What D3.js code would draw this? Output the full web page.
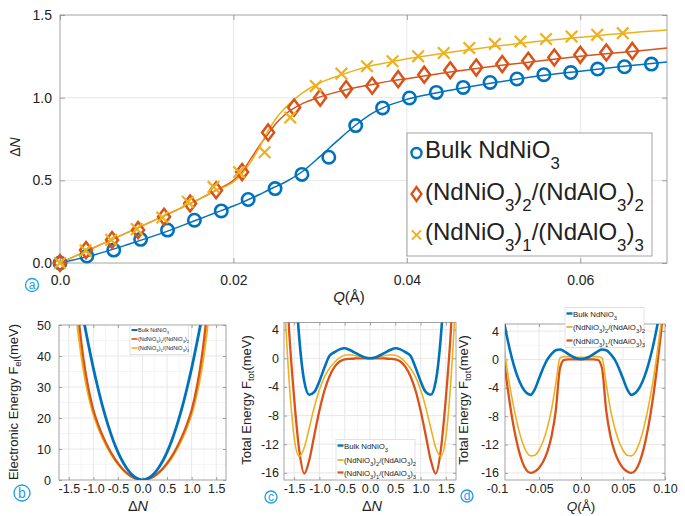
<!DOCTYPE html>
<html><head><meta charset="utf-8">
<script src="https://cdn.jsdelivr.net/npm/d3@7"></script>
<style>body{margin:0;background:#fff}svg{display:block}text{font-family:"Liberation Sans",Arial,Helvetica,sans-serif}</style>
</head><body>
<script>
// ---------------- DATA ----------------
// Panel a: markers
const qBulk=[0,0.0031,0.0062,0.0093,0.0124,0.0155,0.0186,0.0217,0.0248,0.0279,0.031,0.0341,0.0372,0.0403,0.0434,0.0465,0.0496,0.0527,0.0558,0.0589,0.062,0.0651,0.0682];
const dnBulk=[0,0.042,0.078,0.143,0.199,0.259,0.315,0.384,0.45,0.536,0.64,0.831,0.938,0.998,1.032,1.062,1.092,1.113,1.139,1.152,1.173,1.187,1.203];
const q22=[0,0.003,0.006,0.009,0.012,0.015,0.018,0.021,0.024,0.027,0.03,0.033,0.036,0.039,0.042,0.045,0.048,0.051,0.054,0.057,0.06,0.063,0.066];
const dn22=[0,0.078,0.139,0.199,0.279,0.36,0.44,0.55,0.79,0.94,1.0,1.052,1.072,1.112,1.139,1.166,1.182,1.203,1.223,1.243,1.259,1.273,1.283];
const q13=[0,0.00295,0.0059,0.00885,0.0118,0.01475,0.0177,0.02065,0.0236,0.02655,0.0295,0.03245,0.0354,0.03835,0.0413,0.04425,0.0472,0.05015,0.0531,0.05605,0.059,0.06195,0.0649];
const dn13=[0,0.075,0.14,0.205,0.275,0.37,0.46,0.55,0.67,0.88,1.07,1.145,1.19,1.22,1.25,1.27,1.30,1.325,1.34,1.355,1.37,1.38,1.39];
// Panel a: fitted curves
const fitQ=[0,0.004,0.008,0.012,0.016,0.018,0.020,0.021,0.022,0.023,0.024,0.025,0.026,0.028,0.030,0.032,0.034,0.036,0.038,0.040,0.045,0.050,0.055,0.060,0.065,0.070];
const fitBulk=[0,0.05,0.115,0.185,0.265,0.305,0.345,0.367,0.39,0.414,0.44,0.465,0.49,0.555,0.645,0.74,0.83,0.905,0.955,0.99,1.045,1.09,1.13,1.16,1.19,1.215];
const fit22=[0,0.095,0.19,0.285,0.385,0.44,0.5,0.55,0.63,0.71,0.78,0.85,0.9,0.965,1.005,1.035,1.06,1.08,1.1,1.115,1.155,1.19,1.22,1.25,1.275,1.30];
const fit13=[0,0.095,0.19,0.285,0.385,0.44,0.49,0.54,0.61,0.70,0.80,0.88,0.94,1.03,1.09,1.13,1.165,1.195,1.215,1.235,1.275,1.31,1.34,1.365,1.39,1.41];
const aXTicks=[0,0.02,0.04,0.06], aXLabels=["0.0","0.02","0.04","0.06"];
const aYTicks=[0,0.5,1,1.5], aYLabels=["0.0","0.5","1.0","1.5"];
const legendA=["Bulk NdNiO_3","(NdNiO_3)_2/(NdAlO_3)_2","(NdNiO_3)_1/(NdAlO_3)_3"];

// Panel b: electronic energy vs ΔN
const dnB=[-1.4,-1.3,-1.2,-1.1,-1.0,-0.9,-0.8,-0.7,-0.6,-0.5,-0.4,-0.3,-0.2,-0.1,0,0.1,0.2,0.3,0.4,0.5,0.6,0.7,0.8,0.9,1.0,1.1,1.2,1.3,1.4];
const felBulk=[71,61,51.8,43.6,36,29.2,23,17.6,12.9,9.0,5.8,3.3,1.5,0.45,0,0.45,1.5,3.3,5.8,9.0,12.9,17.6,23,29.2,36,43.6,51.8,61,71];
const fel22=[68,52,39,29.5,22.6,17.8,13.9,10.6,7.8,5.4,3.5,2.0,0.9,0.25,0,0.25,0.9,2.0,3.5,5.4,7.8,10.6,13.9,17.8,22.6,29.5,39,52,68];
const fel13=[61,46.5,35.5,27.3,21.2,16.8,13.1,10.0,7.3,5.1,3.3,1.9,0.85,0.23,0,0.23,0.85,1.9,3.3,5.1,7.3,10.0,13.1,16.8,21.2,27.3,35.5,46.5,61];
const bXTicks=[-1.5,-1,-0.5,0,0.5,1,1.5], bXLabels=["-1.5","-1.0","-0.5","0.0","0.5","1.0","1.5"];
const bYTicks=[0,10,20,30,40,50], bYLabels=["0","10","20","30","40","50"];
const legendB=["Bulk NdNiO_3","(NdNiO_3)_2/(NdNiO_3)_2","(NdNiO_3)_1/(NdNiO_3)_3"];

// Panel c: total energy vs ΔN
const dnC=[-1.7,-1.6,-1.5,-1.4,-1.3,-1.2,-1.1,-1.0,-0.9,-0.8,-0.7,-0.6,-0.5,-0.4,-0.3,-0.2,-0.1,0,0.1,0.2,0.3,0.4,0.5,0.6,0.7,0.8,0.9,1.0,1.1,1.2,1.3,1.4,1.5,1.6,1.7];
const ftotBulkC=[50,30,14,3.0,-3.2,-5.1,-4.7,-3.2,-1.3,0.35,0.85,1.25,1.4,1.15,0.8,0.42,0.12,0,0.12,0.42,0.8,1.15,1.4,1.25,0.85,0.35,-1.3,-3.2,-4.7,-5.1,-3.2,3.0,14,30,50];
const ftot22C=[9,-3,-11,-13.7,-12.5,-9.7,-6.8,-4.4,-2.6,-1.4,-0.55,0.1,0.42,0.5,0.38,0.22,0.1,0.05,0.1,0.22,0.38,0.5,0.42,0.1,-0.55,-1.4,-2.6,-4.4,-6.8,-9.7,-12.5,-13.7,-11,-3,9];
const ftot13C=[18,4,-5.5,-12.8,-16.1,-14.2,-10.7,-7.3,-4.5,-2.5,-1.2,-0.45,-0.15,-0.08,-0.03,0,0,0,0,0,-0.03,-0.08,-0.15,-0.45,-1.2,-2.5,-4.5,-7.3,-10.7,-14.2,-16.1,-12.8,-5.5,4,18];
const cYTicks=[-16,-12,-8,-4,0,4], cYLabels=["-16","-12","-8","-4","0","4"];
const legendCD=["Bulk NdNiO_3","(NdNiO_3)_2/(NdAlO_3)_2","(NdNiO_3)_1/(NdAlO_3)_3"];

// Panel d: total energy vs Q
const qD=[-0.1,-0.095,-0.09,-0.085,-0.08,-0.075,-0.07,-0.065,-0.06,-0.055,-0.05,-0.045,-0.04,-0.035,-0.03,-0.025,-0.02,-0.015,-0.01,-0.005,0,0.005,0.01,0.015,0.02,0.025,0.03,0.035,0.04,0.045,0.05,0.055,0.06,0.065,0.07,0.075,0.08,0.085,0.09,0.095,0.1];
const ftotBulkD=[11,7.5,4.3,1.5,-0.8,-2.6,-3.9,-4.7,-5.0,-4.2,-2.7,-1.2,0.0,0.8,1.3,1.4,1.15,0.75,0.4,0.15,0.05,0.15,0.4,0.75,1.15,1.4,1.3,0.8,0.0,-1.2,-2.7,-4.2,-5.0,-4.7,-3.9,-2.6,-0.8,1.5,4.3,7.5,11];
const ftot22D=[9.6,4.8,0.3,-3.6,-6.8,-9.5,-11.6,-13.0,-13.6,-13.5,-12.8,-11.5,-9.6,-7.0,-3.4,0.2,0.4,0.4,0.35,0.3,0.3,0.3,0.35,0.4,0.4,0.2,-3.4,-7.0,-9.6,-11.5,-12.8,-13.5,-13.6,-13.0,-11.6,-9.5,-6.8,-3.6,0.3,4.8,9.6];
const ftot13D=[9,3.5,-1.6,-6.0,-9.6,-12.4,-14.4,-15.6,-16.0,-15.8,-15.3,-14.4,-13.0,-10.8,-7.2,-1.2,-0.05,0,0,0,0,0,0,0,-0.05,-1.2,-7.2,-10.8,-13.0,-14.4,-15.3,-15.8,-16.0,-15.6,-14.4,-12.4,-9.6,-6.0,-1.6,3.5,9];
const dXTicks=[-0.1,-0.05,0,0.05,0.1], dXLabels=["-0.1","-0.05","0.0","0.05","0.10"];

// ---------------- DRAWING ----------------
const W=685,H=516;
const BLUE="#0072BD", ORANGE="#D95319", YELLOW="#EDB120";
const AX="#8c8c8c", GRID="#e2e2e2", MINOR="#f0f0f0", TXT="#222", TAG="#1e9de6";
const svg=d3.select("body").append("svg").attr("width",W).attr("height",H);
const defs=svg.append("defs");

function rich(sel, str, fs, subScale, subDy){
  const parts=[]; let i=0, buf="";
  while(i<str.length){
    if(str[i]==="_"){
      if(buf){parts.push([buf,false]);buf="";}
      if(str[i+1]==="{"){const j=str.indexOf("}",i);parts.push([str.slice(i+2,j),true]);i=j+1;}
      else{parts.push([str[i+1],true]);i+=2;}
    } else {buf+=str[i];i++;}
  }
  if(buf)parts.push([buf,false]);
  let cur=0;
  parts.forEach(([t,sub])=>{
    const target=sub?subDy:0;
    sel.append("tspan").attr("dy",target-cur).attr("font-size",sub?fs*subScale:fs).text(t);
    cur=target;
  });
}

function setupPanel(id, box, xDom, xRange, yDom, xT, xL, yT, yL, o){
  const x=d3.scaleLinear().domain(xDom).range(xRange);
  const y=d3.scaleLinear().domain(yDom).range([box.b,box.t]);
  const g=svg.append("g");
  defs.append("clipPath").attr("id",id).append("rect")
    .attr("x",box.l).attr("y",box.t).attr("width",box.r-box.l).attr("height",box.b-box.t);
  const inX=v=>x(v)>box.l+0.5&&x(v)<box.r-0.5, inY=v=>y(v)>box.t+0.5&&y(v)<box.b-0.5;
  if(o.xMinor) g.append("g").selectAll("line").data(o.xMinor.filter(inX)).join("line")
    .attr("x1",d=>x(d)).attr("x2",d=>x(d)).attr("y1",box.t).attr("y2",box.b).attr("stroke",MINOR).attr("stroke-width",0.7);
  if(o.yMinor) g.append("g").selectAll("line").data(o.yMinor.filter(inY)).join("line")
    .attr("y1",d=>y(d)).attr("y2",d=>y(d)).attr("x1",box.l).attr("x2",box.r).attr("stroke",MINOR).attr("stroke-width",0.7);
  g.append("g").selectAll("line").data(xT.filter(inX)).join("line")
    .attr("x1",d=>x(d)).attr("x2",d=>x(d)).attr("y1",box.t).attr("y2",box.b).attr("stroke",GRID).attr("stroke-width",0.8);
  g.append("g").selectAll("line").data(yT.filter(inY)).join("line")
    .attr("y1",d=>y(d)).attr("y2",d=>y(d)).attr("x1",box.l).attr("x2",box.r).attr("stroke",GRID).attr("stroke-width",0.8);
  const fmtX=d=>xL[xT.indexOf(d)], fmtY=d=>yL[yT.indexOf(d)];
  const ax1=g.append("g").attr("transform",`translate(0,${box.b})`)
    .call(d3.axisBottom(x).tickValues(xT).tickFormat(fmtX).tickSizeInner(-o.tl).tickSizeOuter(0).tickPadding(o.xPad));
  const ax2=g.append("g").attr("transform",`translate(${box.l},0)`)
    .call(d3.axisLeft(y).tickValues(yT).tickFormat(fmtY).tickSizeInner(-o.tl).tickSizeOuter(0).tickPadding(o.yPad));
  const ax3=g.append("g").attr("transform",`translate(0,${box.t})`)
    .call(d3.axisTop(x).tickValues(xT.filter(v=>x(v)>=box.l-0.5&&x(v)<=box.r+0.5)).tickFormat("").tickSizeInner(-o.tl).tickSizeOuter(0));
  const ax4=g.append("g").attr("transform",`translate(${box.r},0)`)
    .call(d3.axisRight(y).tickValues(yT).tickFormat("").tickSizeInner(-o.tl).tickSizeOuter(0));
  [ax1,ax2,ax3,ax4].forEach(a=>{
    a.select(".domain").remove();
    a.selectAll(".tick line").attr("stroke",AX).attr("stroke-width",0.8);
    a.selectAll(".tick text").attr("fill",TXT).attr("font-size",o.fs).attr("font-family","'Liberation Sans',Arial,sans-serif");
  });
  ax1.selectAll(".tick").filter(d=>x(d)<box.l-0.5||x(d)>box.r+0.5).select("line").remove();
  g.append("rect").attr("x",box.l).attr("y",box.t).attr("width",box.r-box.l).attr("height",box.b-box.t)
    .attr("fill","none").attr("stroke",AX).attr("stroke-width",0.8);
  return {x,y,g};
}

function drawCurve(p, id, xs, ys, color, w){
  const line=d3.line().x(d=>p.x(d[0])).y(d=>p.y(d[1])).curve(d3.curveMonotoneX);
  svg.append("path").attr("clip-path",`url(#${id})`).attr("d",line(xs.map((v,i)=>[v,ys[i]])))
    .attr("fill","none").attr("stroke",color).attr("stroke-width",w).attr("stroke-linejoin","round");
}

function tag(cx,cy,r,letter,fs){
  svg.append("circle").attr("cx",cx).attr("cy",cy).attr("r",r).attr("fill","#fff").attr("stroke",TAG).attr("stroke-width",1.3);
  svg.append("text").attr("x",cx).attr("y",cy).attr("dy","0.35em").attr("text-anchor","middle").attr("fill",TAG).attr("font-size",fs).text(letter);
}

function serifLabel(x,y,parts,fs,rot){
  const t=svg.append("text").attr("font-family","'Liberation Serif','Times New Roman',serif").attr("font-size",fs).attr("fill",TXT)
    .attr("text-anchor","middle").attr("transform",`translate(${x},${y})${rot?" rotate(-90)":""}`);
  parts.forEach(([s,it])=>t.append("tspan").attr("font-style",it?"italic":"normal").text(s));
}

// ---------- Panel a ----------
const boxA={l:60,r:667,t:15,b:263};
const pa=setupPanel("clipA",boxA,[0,0.07],[boxA.l,boxA.r],[0,1.5],aXTicks,aXLabels,aYTicks,aYLabels,{tl:5,xPad:12,yPad:8,fs:14});
drawCurve(pa,"clipA",fitQ,fitBulk,BLUE,1.5);
drawCurve(pa,"clipA",fitQ,fit22,ORANGE,1.5);
drawCurve(pa,"clipA",fitQ,fit13,YELLOW,1.5);
const diamond=(w,h)=>`M0,${-h}L${w},0L0,${h}L${-w},0Z`;
const cross=a=>`M${-a},${-a}L${a},${a}M${-a},${a}L${a},${-a}`;
svg.append("g").selectAll("circle").data(qBulk.map((q,i)=>[q,dnBulk[i]])).join("circle")
  .attr("cx",d=>pa.x(d[0])).attr("cy",d=>pa.y(d[1])).attr("r",6.2).attr("fill","none").attr("stroke",BLUE).attr("stroke-width",2.6);
svg.append("g").selectAll("path").data(q22.map((q,i)=>[q,dn22[i]])).join("path")
  .attr("transform",d=>`translate(${pa.x(d[0])},${pa.y(d[1])})`).attr("d",diamond(6,8))
  .attr("fill","none").attr("stroke",ORANGE).attr("stroke-width",2.5).attr("stroke-linejoin","miter");
svg.append("g").selectAll("path").data(q13.map((q,i)=>[q,dn13[i]])).join("path")
  .attr("transform",d=>`translate(${pa.x(d[0])},${pa.y(d[1])})`).attr("d",cross(5.8))
  .attr("fill","none").attr("stroke",YELLOW).attr("stroke-width",2.2);
// legend a
const legA=svg.append("g");
legA.append("rect").attr("x",407).attr("y",133).attr("width",245).attr("height",123).attr("fill","#fff").attr("stroke",AX).attr("stroke-width",0.8);
const rowsA=[158,200,240];
legA.append("circle").attr("cx",416.5).attr("cy",153).attr("r",5).attr("fill","none").attr("stroke",BLUE).attr("stroke-width",2.4);
legA.append("path").attr("transform","translate(416.5,194)").attr("d",diamond(5,7)).attr("fill","none").attr("stroke",ORANGE).attr("stroke-width",2.3);
legA.append("path").attr("transform","translate(416.5,235)").attr("d",cross(4.6)).attr("fill","none").attr("stroke",YELLOW).attr("stroke-width",2);
legendA.forEach((s,i)=>{
  const t=legA.append("text").attr("x",425).attr("y",rowsA[i]).attr("fill",TXT).attr("font-size",24);
  rich(t,s,24,0.7,10.5);
});
serifLabel(20,147,[["Δ",false],["N",true]],14,true);
serifLabel(349,302,[["Q",true],["(Å)",false]],15,false);
tag(32,285,6.5,"a",12);

// ---------- Panel b ----------
const boxB={l:59,r:226,t:325,b:480};
const pb=setupPanel("clipB",boxB,[-1.7,1.7],[boxB.l,boxB.r],[0,50],bXTicks,bXLabels,bYTicks,bYLabels,
  {tl:3,xPad:4,yPad:8,fs:12.5,xMinor:[-1.25,-0.75,-0.25,0.25,0.75,1.25],yMinor:[5,15,25,35,45]});
drawCurve(pb,"clipB",dnB,fel13,YELLOW,2.2);
drawCurve(pb,"clipB",dnB,fel22,ORANGE,2.2);
drawCurve(pb,"clipB",dnB,felBulk,BLUE,2.8);
const legB=svg.append("g");
legB.append("rect").attr("x",130).attr("y",325.5).attr("width",58.5).attr("height",29).attr("fill","#fff").attr("stroke","#cfcfcf").attr("stroke-width",0.6);
[[BLUE,332],[ORANGE,341],[YELLOW,350]].forEach(([c,yy],i)=>{
  legB.append("line").attr("x1",131.5).attr("x2",137.5).attr("y1",yy-2).attr("y2",yy-2).attr("stroke",c).attr("stroke-width",i===0?2:1.6);
  const t=legB.append("text").attr("x",138).attr("y",yy).attr("fill",TXT).attr("font-size",5.5);
  rich(t,legendB[i],5.5,0.75,2);
});
{
  const t=svg.append("text").attr("transform","translate(18,402) rotate(-90)").attr("text-anchor","middle").attr("fill",TXT).attr("font-size",13);
  rich(t,"Electronic Energy F_{el}(meV)",13,0.72,3);
}
serifLabel(138,511,[["Δ",false],["N",true]],14.5,false);
tag(22,493,8,"b",14);

// ---------- Panel c ----------
const boxC={l:284,r:456,t:322.5,b:480};
const pc=setupPanel("clipC",boxC,[-1.7,1.7],[boxC.l,boxC.r],[-17,5],bXTicks,bXLabels,cYTicks,cYLabels,
  {tl:3,xPad:4,yPad:5,fs:12.5,xMinor:[-1.25,-0.75,-0.25,0.25,0.75,1.25],yMinor:[-14,-10,-6,-2,2]});
drawCurve(pc,"clipC",dnC,ftot13C,ORANGE,2.3);
drawCurve(pc,"clipC",dnC,ftot22C,YELLOW,1.6);
drawCurve(pc,"clipC",dnC,ftotBulkC,BLUE,2.6);
function legendSmall(x0,y0,rows){
  const lg=svg.append("g");
  lg.append("rect").attr("x",x0).attr("y",y0).attr("width",79).attr("height",40).attr("fill","#fff").attr("stroke","#cfcfcf").attr("stroke-width",0.6);
  [[BLUE,2.4],[YELLOW,1.8],[ORANGE,2.2]].forEach(([c,w],i)=>{
    const yy=y0+rows[i];
    lg.append("line").attr("x1",x0+1.5).attr("x2",x0+7.5).attr("y1",yy).attr("y2",yy).attr("stroke",c).attr("stroke-width",w);
    const t=lg.append("text").attr("x",x0+8).attr("y",yy+3).attr("fill",TXT).attr("font-size",7.8);
    rich(t,legendCD[i],7.8,0.75,3);
  });
}
legendSmall(336,439.5,[6,20.5,33]);
{
  const t=svg.append("text").attr("transform","translate(251,400) rotate(-90)").attr("text-anchor","middle").attr("fill",TXT).attr("font-size",13);
  rich(t,"Total Energy F_{tot}(meV)",13,0.72,3);
}
serifLabel(372,511,[["Δ",false],["N",true]],14.5,false);
tag(271,497,6,"c",12);

// ---------- Panel d ----------
const boxD={l:505,r:665,t:324,b:480};
const pd=setupPanel("clipD",boxD,[-0.1,0.1],[497,665],[-17,5],dXTicks,dXLabels,cYTicks,cYLabels,
  {tl:3,xPad:4,yPad:6,fs:12.5,xMinor:[-0.075,-0.025,0.025,0.075],yMinor:[-14,-10,-6,-2,2]});
drawCurve(pd,"clipD",qD,ftot13D,ORANGE,2.3);
drawCurve(pd,"clipD",qD,ftot22D,YELLOW,1.6);
drawCurve(pd,"clipD",qD,ftotBulkD,BLUE,2.6);
legendSmall(565,307.5,[6,19.5,33]);
{
  const t=svg.append("text").attr("transform","translate(468,400) rotate(-90)").attr("text-anchor","middle").attr("fill",TXT).attr("font-size",13);
  rich(t,"Total Energy F_{tot}(meV)",13,0.72,3);
}
serifLabel(581,511,[["Q",true],["(Å)",false]],13.5,false);
tag(467,496,6,"d",12);
</script></body></html>
